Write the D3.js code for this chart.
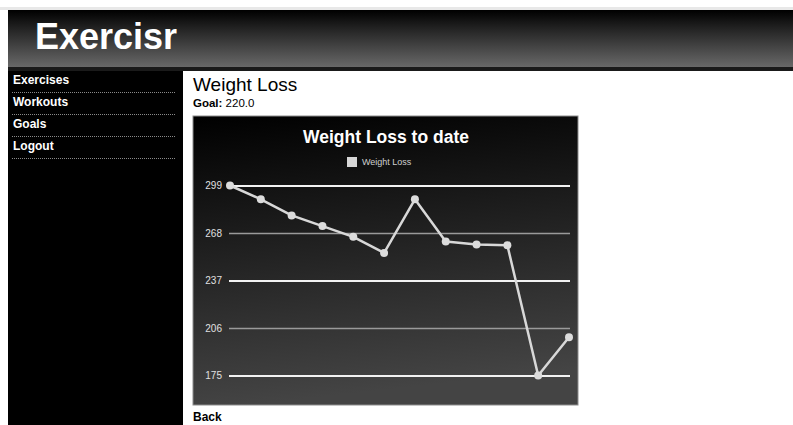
<!DOCTYPE html>
<html>
<head>
<meta charset="utf-8">
<script src="https://cdn.jsdelivr.net/npm/d3@7"></script>
<style>
  html, body { margin: 0; padding: 0; background: #fff; }
  svg { display: block; font-family: "Liberation Sans", Arial, sans-serif; }
</style>
</head>
<body>
<div id="page"></div>
<script>
// chart values
const entries = ["1", "2", "3", "4", "5", "6", "7", "8", "9", "10", "11", "12"];
const weights = [299, 290, 279.5, 272.5, 265.5, 255, 290, 262.5, 260.5, 260, 175, 200];
const yTicks = [175, 206, 237, 268, 299];
const navLinks = ["Exercises", "Workouts", "Goals", "Logout"];
const goal = 220.0;

const width = 793, height = 425;

const svg = d3.select("#page")
  .append("svg")
  .attr("width", width)
  .attr("height", height);

const defs = svg.append("defs");

const headGrad = defs.append("linearGradient")
  .attr("id", "headGrad").attr("x1", 0).attr("y1", 0).attr("x2", 0).attr("y2", 1);
headGrad.append("stop").attr("offset", "0%").attr("stop-color", "#000");
headGrad.append("stop").attr("offset", "35%").attr("stop-color", "#262626");
headGrad.append("stop").attr("offset", "100%").attr("stop-color", "#6a6a6a");

const chartGrad = defs.append("linearGradient")
  .attr("id", "chartGrad").attr("x1", 0).attr("y1", 0).attr("x2", 0.15).attr("y2", 1);
chartGrad.append("stop").attr("offset", "0%").attr("stop-color", "#000");
chartGrad.append("stop").attr("offset", "100%").attr("stop-color", "#444");

// page chrome
svg.append("rect").attr("x", 0).attr("y", 7).attr("width", width).attr("height", 3).attr("fill", "#e8e8e8");
svg.append("rect").attr("x", 8).attr("y", 10).attr("width", width - 8).attr("height", 58).attr("fill", "url(#headGrad)");
svg.append("rect").attr("x", 8).attr("y", 67).attr("width", width - 8).attr("height", 4).attr("fill", "#1a1a1a");

svg.append("text")
  .attr("x", 35).attr("y", 49)
  .attr("fill", "#fff")
  .attr("font-size", 36)
  .attr("font-weight", "bold")
  .text("Exercisr");

// sidebar
svg.append("rect").attr("x", 8).attr("y", 71).attr("width", 175).attr("height", height - 71).attr("fill", "#000");

const nav = svg.append("g").attr("class", "nav");
nav.selectAll("text")
  .data(navLinks)
  .enter()
  .append("text")
  .attr("x", 13)
  .attr("y", (d, i) => 84 + i * 22)
  .attr("fill", "#fff")
  .attr("font-size", 12)
  .attr("font-weight", "bold")
  .text(d => d);
nav.selectAll("line")
  .data(navLinks)
  .enter()
  .append("line")
  .attr("x1", 12).attr("x2", 176)
  .attr("y1", (d, i) => 92.5 + i * 22)
  .attr("y2", (d, i) => 92.5 + i * 22)
  .attr("stroke", "#8a8a8a")
  .attr("stroke-width", 1)
  .attr("stroke-dasharray", "1,1");

// main heading
svg.append("text")
  .attr("x", 193).attr("y", 91)
  .attr("fill", "#000")
  .attr("font-size", 19)
  .text("Weight Loss");

const goalText = svg.append("text")
  .attr("x", 193).attr("y", 106.5)
  .attr("fill", "#000")
  .attr("font-size", 11.5);
goalText.append("tspan").attr("font-weight", "bold").text("Goal: ");
goalText.append("tspan").text(goal.toFixed(1));

svg.append("text")
  .attr("x", 193).attr("y", 421)
  .attr("fill", "#000")
  .attr("font-size", 12)
  .attr("font-weight", "bold")
  .text("Back");

// chart box
const box = { x: 193, y: 116, w: 385, h: 289 };
svg.append("rect")
  .attr("x", box.x).attr("y", box.y)
  .attr("width", box.w).attr("height", box.h)
  .attr("fill", "url(#chartGrad)")
  .attr("stroke", "#8c8c8c")
  .attr("stroke-width", 1);

svg.append("text")
  .attr("x", 386).attr("y", 143)
  .attr("text-anchor", "middle")
  .attr("fill", "#fff")
  .attr("font-size", 17.5)
  .attr("font-weight", "bold")
  .text("Weight Loss to date");

// legend
svg.append("rect")
  .attr("x", 347).attr("y", 157)
  .attr("width", 10).attr("height", 10)
  .attr("fill", "#d6d6d6");
svg.append("text")
  .attr("x", 362).attr("y", 164.5)
  .attr("fill", "#cfcfcf")
  .attr("font-size", 9)
  .text("Weight Loss");

// scales
const x = d3.scalePoint().domain(entries).range([230, 569]);
const y = d3.scaleLinear().domain([175, 299]).range([375.5, 185.5]);

const yAxis = d3.axisLeft(y)
  .tickValues(yTicks)
  .tickSize(-341)
  .tickPadding(7)
  .tickFormat(d3.format("d"));

const axisG = svg.append("g")
  .attr("transform", "translate(229,0)")
  .call(yAxis);
axisG.select(".domain").remove();
axisG.selectAll(".tick line")
  .attr("stroke", (d, i) => i % 2 === 0 ? "#f2f2f2" : "#9a9a9a")
  .attr("stroke-width", (d, i) => i % 2 === 0 ? 2 : 1.5);
axisG.selectAll(".tick text")
  .attr("fill", "#e0e0e0")
  .attr("font-size", 10)
  .attr("font-family", "Liberation Sans, Arial, sans-serif");

// series
const line = d3.line()
  .x((d, i) => x(entries[i]))
  .y(d => y(d));

svg.append("path")
  .datum(weights)
  .attr("fill", "none")
  .attr("stroke", "#d8d8d8")
  .attr("stroke-width", 2.5)
  .attr("stroke-linejoin", "round")
  .attr("d", line);

svg.append("g")
  .selectAll("circle")
  .data(weights)
  .enter()
  .append("circle")
  .attr("cx", (d, i) => x(entries[i]))
  .attr("cy", d => y(d))
  .attr("r", 4)
  .attr("fill", "#dcdcdc");
</script>
</body>
</html>
